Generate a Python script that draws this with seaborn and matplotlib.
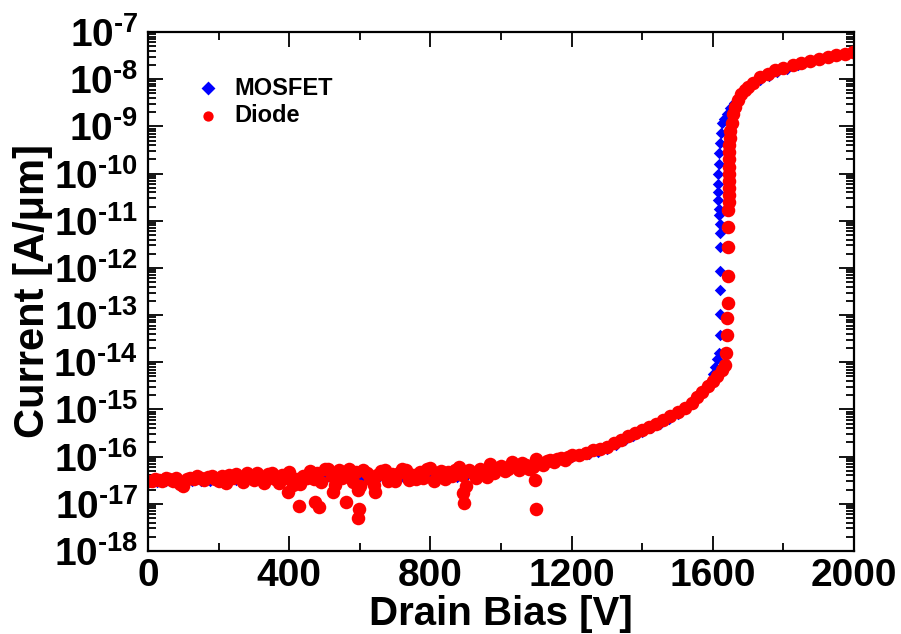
import numpy as np
import pandas as pd
import matplotlib
matplotlib.use("Agg")
import matplotlib.pyplot as plt
import matplotlib.ticker as mticker
import seaborn as sns

# MOSFET sweep (blue diamonds)
mos_v = [0, 25, 50, 75, 100, 125, 150, 175, 200, 225, 250, 275, 300, 325, 350, 375,
         400, 425, 450, 475, 500, 525, 550, 575, 600, 625, 650, 675, 700, 725, 750, 775,
         800, 825, 850, 875, 900, 925, 950, 975, 1000, 1025, 1050, 1075, 1100, 1125, 1150,
         1175, 1200, 1225, 1250, 1275, 1300, 1325, 1350, 1375, 1400, 1425, 1450, 1475,
         1500, 1520, 1540, 1555, 1570, 1585, 1600, 1606, 1612,
         1618, 1620, 1620, 1620, 1620, 1620, 1620, 1619, 1618, 1617, 1616, 1616, 1616,
         1616, 1617, 1618, 1620, 1623, 1627,
         1633, 1640, 1650, 1660, 1669, 1680, 1697, 1715, 1734, 1760, 1781, 1810, 1840,
         1875, 1910, 1950, 1980, 2000]
mos_i = [2.9e-17, 2.9e-17, 3.0e-17, 3.0e-17, 3.0e-17, 3.0e-17, 3.1e-17, 3.1e-17, 3.1e-17,
         3.1e-17, 3.2e-17, 3.2e-17, 3.2e-17, 3.2e-17, 3.3e-17, 3.3e-17, 3.3e-17, 3.3e-17,
         3.4e-17, 3.5e-17, 3.4e-17, 3.4e-17, 3.3e-17, 3.2e-17, 3.3e-17, 3.4e-17, 3.4e-17,
         3.5e-17, 3.5e-17, 3.5e-17, 3.5e-17, 3.6e-17, 3.6e-17, 3.5e-17, 3.6e-17, 3.7e-17,
         3.9e-17, 4.1e-17, 4.4e-17, 5.1e-17, 5.2e-17, 6.0e-17, 6.3e-17, 6.8e-17, 7.3e-17,
         7.9e-17, 8.6e-17, 9.2e-17, 9.8e-17, 1.06e-16, 1.15e-16, 1.28e-16, 1.45e-16,
         1.75e-16, 2.2e-16, 2.7e-16, 3.3e-16, 4.0e-16, 5.0e-16, 6.4e-16,
         8.2e-16, 1.05e-15, 1.4e-15, 1.8e-15, 2.5e-15, 3.5e-15, 5.6e-15, 7.8e-15, 1.2e-14,
         1.55e-14, 3.7e-14, 1.07e-13, 3.4e-13, 8.7e-13, 2.8e-12, 5.4e-12, 8.7e-12,
         1.32e-11, 1.8e-11, 2.7e-11, 4.1e-11, 6.0e-11,
         1.0e-10, 1.6e-10, 2.7e-10, 4.4e-10, 7.1e-10, 1.17e-9,
         1.4e-9, 1.8e-9, 2.4e-9, 3.2e-9, 3.5e-9, 4.7e-9, 6.5e-9, 7.9e-9, 9.5e-9, 1.17e-8,
         1.4e-8, 1.66e-8, 1.95e-8, 2.3e-8, 2.7e-8, 3.1e-8, 3.5e-8, 3.7e-8]

# Diode sweep (red circles): noisy floor, a few low outliers, then the breakdown branch
dio_v = [0, 10, 20, 30, 40, 50, 60, 70, 80, 90, 100, 110, 120, 130, 140, 150, 160, 170,
         180, 190, 200, 210, 220, 230, 240, 250, 260, 270, 280, 290, 300, 310, 320, 330,
         340, 350, 360, 370, 380, 390, 400, 410, 420, 430, 440, 450, 460, 470, 480, 490,
         500, 510, 520, 530, 540, 550, 560, 570, 580, 590, 600, 610, 620, 630, 640, 650,
         660, 670, 680, 690, 700, 710, 720, 730, 740, 750, 760, 770, 780, 790, 800, 810,
         820, 830, 840, 850, 860, 870, 880, 890, 900, 910, 920, 930, 940, 950, 960, 970,
         980, 990, 1000, 1010, 1020, 1030, 1040, 1050, 1060, 1070, 1080, 1090, 1100, 1110,
         1120, 1130, 1140, 1150, 1160, 1170, 1180, 1190, 1200,
         397, 428, 473, 484, 524, 561, 595, 595, 598, 643, 892, 895, 1096, 1099,
         1220, 1240, 1260, 1280, 1300, 1320, 1340, 1360, 1380, 1400, 1420, 1440, 1460,
         1480, 1500, 1520, 1540, 1555, 1570, 1585, 1600, 1612, 1625, 1635,
         1638, 1640, 1641, 1642, 1643, 1643, 1643, 1644, 1645, 1645, 1645, 1645, 1645,
         1646, 1646, 1646, 1647, 1648, 1650, 1653, 1657, 1663, 1670, 1680, 1690, 1700,
         1715, 1735, 1755, 1775, 1800, 1827, 1850, 1875, 1900, 1925, 1950, 1975, 1997]
dio_i = [3.0e-17, 3.1e-17, 3.4e-17, 3.2e-17, 3.0e-17, 3.5e-17, 3.3e-17, 3.1e-17, 3.6e-17,
         2.6e-17, 2.4e-17, 3.4e-17, 3.6e-17, 3.3e-17, 3.8e-17, 3.5e-17, 3.2e-17, 3.7e-17,
         3.9e-17, 3.4e-17, 3.1e-17, 3.8e-17, 2.7e-17, 4.1e-17, 3.6e-17, 4.3e-17, 3.5e-17,
         2.9e-17, 4.4e-17, 3.9e-17, 3.2e-17, 4.5e-17, 3.7e-17, 2.8e-17, 4.2e-17, 4.6e-17,
         3.4e-17, 2.8e-17, 4.0e-17, 3.6e-17, 4.8e-17, 2.5e-17, 3.3e-17, 2.6e-17, 3.9e-17,
         3.5e-17, 4.9e-17, 3.3e-17, 4.6e-17, 2.9e-17, 5.4e-17, 5.6e-17, 3.8e-17, 2.5e-17,
         5.3e-17, 3.6e-17, 4.1e-17, 5.6e-17, 2.9e-17, 4.7e-17, 2.4e-17, 5.2e-17, 4.4e-17,
         3.4e-17, 2.5e-17, 4.0e-17, 5.0e-17, 5.2e-17, 3.1e-17, 4.3e-17, 3.0e-17, 4.6e-17,
         5.4e-17, 5.3e-17, 3.2e-17, 4.0e-17, 3.3e-17, 4.7e-17, 3.6e-17, 5.4e-17, 5.8e-17,
         3.1e-17, 4.4e-17, 5.0e-17, 3.4e-17, 4.7e-17, 3.8e-17, 5.3e-17, 6.0e-17, 4.1e-17,
         2.4e-17, 5.2e-17, 4.4e-17, 3.6e-17, 5.5e-17, 4.8e-17, 3.7e-17, 7.0e-17, 4.5e-17,
         5.8e-17, 6.4e-17, 4.9e-17, 5.6e-17, 7.6e-17, 6.3e-17, 5.3e-17, 7.2e-17, 6.5e-17,
         5.6e-17, 6.0e-17, 9.0e-17, 7.4e-17, 6.6e-17, 8.0e-17, 8.4e-17, 7.8e-17, 8.8e-17,
         9.4e-17, 8.6e-17, 1.0e-16, 1.08e-16,
         1.8e-17, 8.9e-18, 1.07e-17, 8.5e-18, 1.8e-17, 1.07e-17, 5.1e-18, 1.95e-17,
         7.9e-18, 1.8e-17, 1.66e-17, 1.02e-17, 3.2e-17, 7.9e-18,
         1.1e-16, 1.2e-16, 1.35e-16, 1.45e-16, 1.6e-16, 1.9e-16, 2.3e-16, 2.7e-16, 3.1e-16,
         3.6e-16, 4.2e-16, 5.0e-16, 6.0e-16, 7.2e-16, 8.8e-16, 1.1e-15, 1.4e-15, 1.8e-15,
         2.4e-15, 3.1e-15, 4.0e-15, 5.0e-15, 7.0e-15, 8.7e-15,
         1.6e-14, 3.7e-14, 8.5e-14, 1.8e-13, 6.9e-13, 2.75e-12, 7.2e-12, 1.66e-11,
         2.5e-11, 3.5e-11, 5.0e-11, 7.0e-11, 1.0e-10, 1.4e-10, 2.0e-10, 2.8e-10, 4.0e-10,
         5.6e-10, 8.0e-10, 1.2e-9, 1.8e-9, 2.6e-9, 3.6e-9, 4.8e-9, 6.0e-9, 6.9e-9,
         8.5e-9, 1.1e-8, 1.3e-8, 1.55e-8, 1.75e-8, 1.95e-8, 2.2e-8, 2.45e-8, 2.7e-8,
         2.9e-8, 3.2e-8, 3.5e-8, 3.7e-8]

x_ticks = [0, 400, 800, 1200, 1600, 2000]
y_exps = list(range(-18, -6))

mos = pd.DataFrame({"V": mos_v, "I": mos_i})
dio = pd.DataFrame({"V": dio_v, "I": dio_i})

sns.set_theme(style="ticks")
plt.rcParams["font.family"] = ["Liberation Sans", "DejaVu Sans"]
plt.rcParams["font.weight"] = "bold"
plt.rcParams["mathtext.fontset"] = "custom"
plt.rcParams["mathtext.rm"] = "Liberation Sans:bold"
plt.rcParams["mathtext.bf"] = "Liberation Sans:bold"
plt.rcParams["mathtext.it"] = "Liberation Sans:bold"
for key in ["text.color", "axes.labelcolor", "xtick.color", "ytick.color", "axes.edgecolor"]:
    plt.rcParams[key] = "black"

fig = plt.figure(figsize=(9.01, 6.34), dpi=100)
ax = fig.add_axes([148 / 901, 1 - 551 / 634, 706 / 901, 519 / 634])

sns.scatterplot(data=mos, x="V", y="I", ax=ax, marker="D", color="#0000ff",
                s=34, linewidth=0, label="MOSFET")
sns.scatterplot(data=dio, x="V", y="I", ax=ax, marker="o", color="#ff0000",
                s=95, linewidth=0, label="Diode")

ax.set_yscale("log")
ax.set_xlim(0, 2000)
ax.set_ylim(1e-18, 1e-7)

ax.set_xticks(x_ticks)
ax.set_xticklabels([str(t) for t in x_ticks])
ax.xaxis.set_minor_locator(mticker.MultipleLocator(200))
ax.set_yticks([10.0 ** e for e in y_exps])
ax.set_yticklabels([r"$10^{\text{-}%d}$" % (-e) for e in y_exps])
ax.yaxis.set_minor_locator(mticker.LogLocator(base=10, subs=np.arange(2, 10), numticks=20))
ax.yaxis.set_minor_formatter(mticker.NullFormatter())

ax.tick_params(which="both", direction="in", top=True, right=True, width=1.3, color="black")
ax.tick_params(axis="x", which="major", length=11, labelsize=28, pad=5)
ax.tick_params(axis="y", which="major", length=11, labelsize=28, pad=7)
ax.tick_params(which="minor", length=6)
for sp in ax.spines.values():
    sp.set_linewidth(1.6)

ax.set_xlabel("Drain Bias [V]", fontsize=29, fontweight="bold", labelpad=1)
ax.set_ylabel("Current [A/μm]", fontsize=30, fontweight="bold")
ax.yaxis.set_label_coords(-0.135, 0.5)

leg = ax.legend(loc="upper left", bbox_to_anchor=(0.035, 0.955), frameon=False,
                fontsize=17, handletextpad=0.5, labelspacing=0.2, handlelength=1.2)
for t in leg.get_texts():
    t.set_fontweight("bold")
leg.legend_handles[0].set_sizes([50])
leg.legend_handles[1].set_sizes([55])

fig.savefig("out.png", dpi=100, facecolor="white")
